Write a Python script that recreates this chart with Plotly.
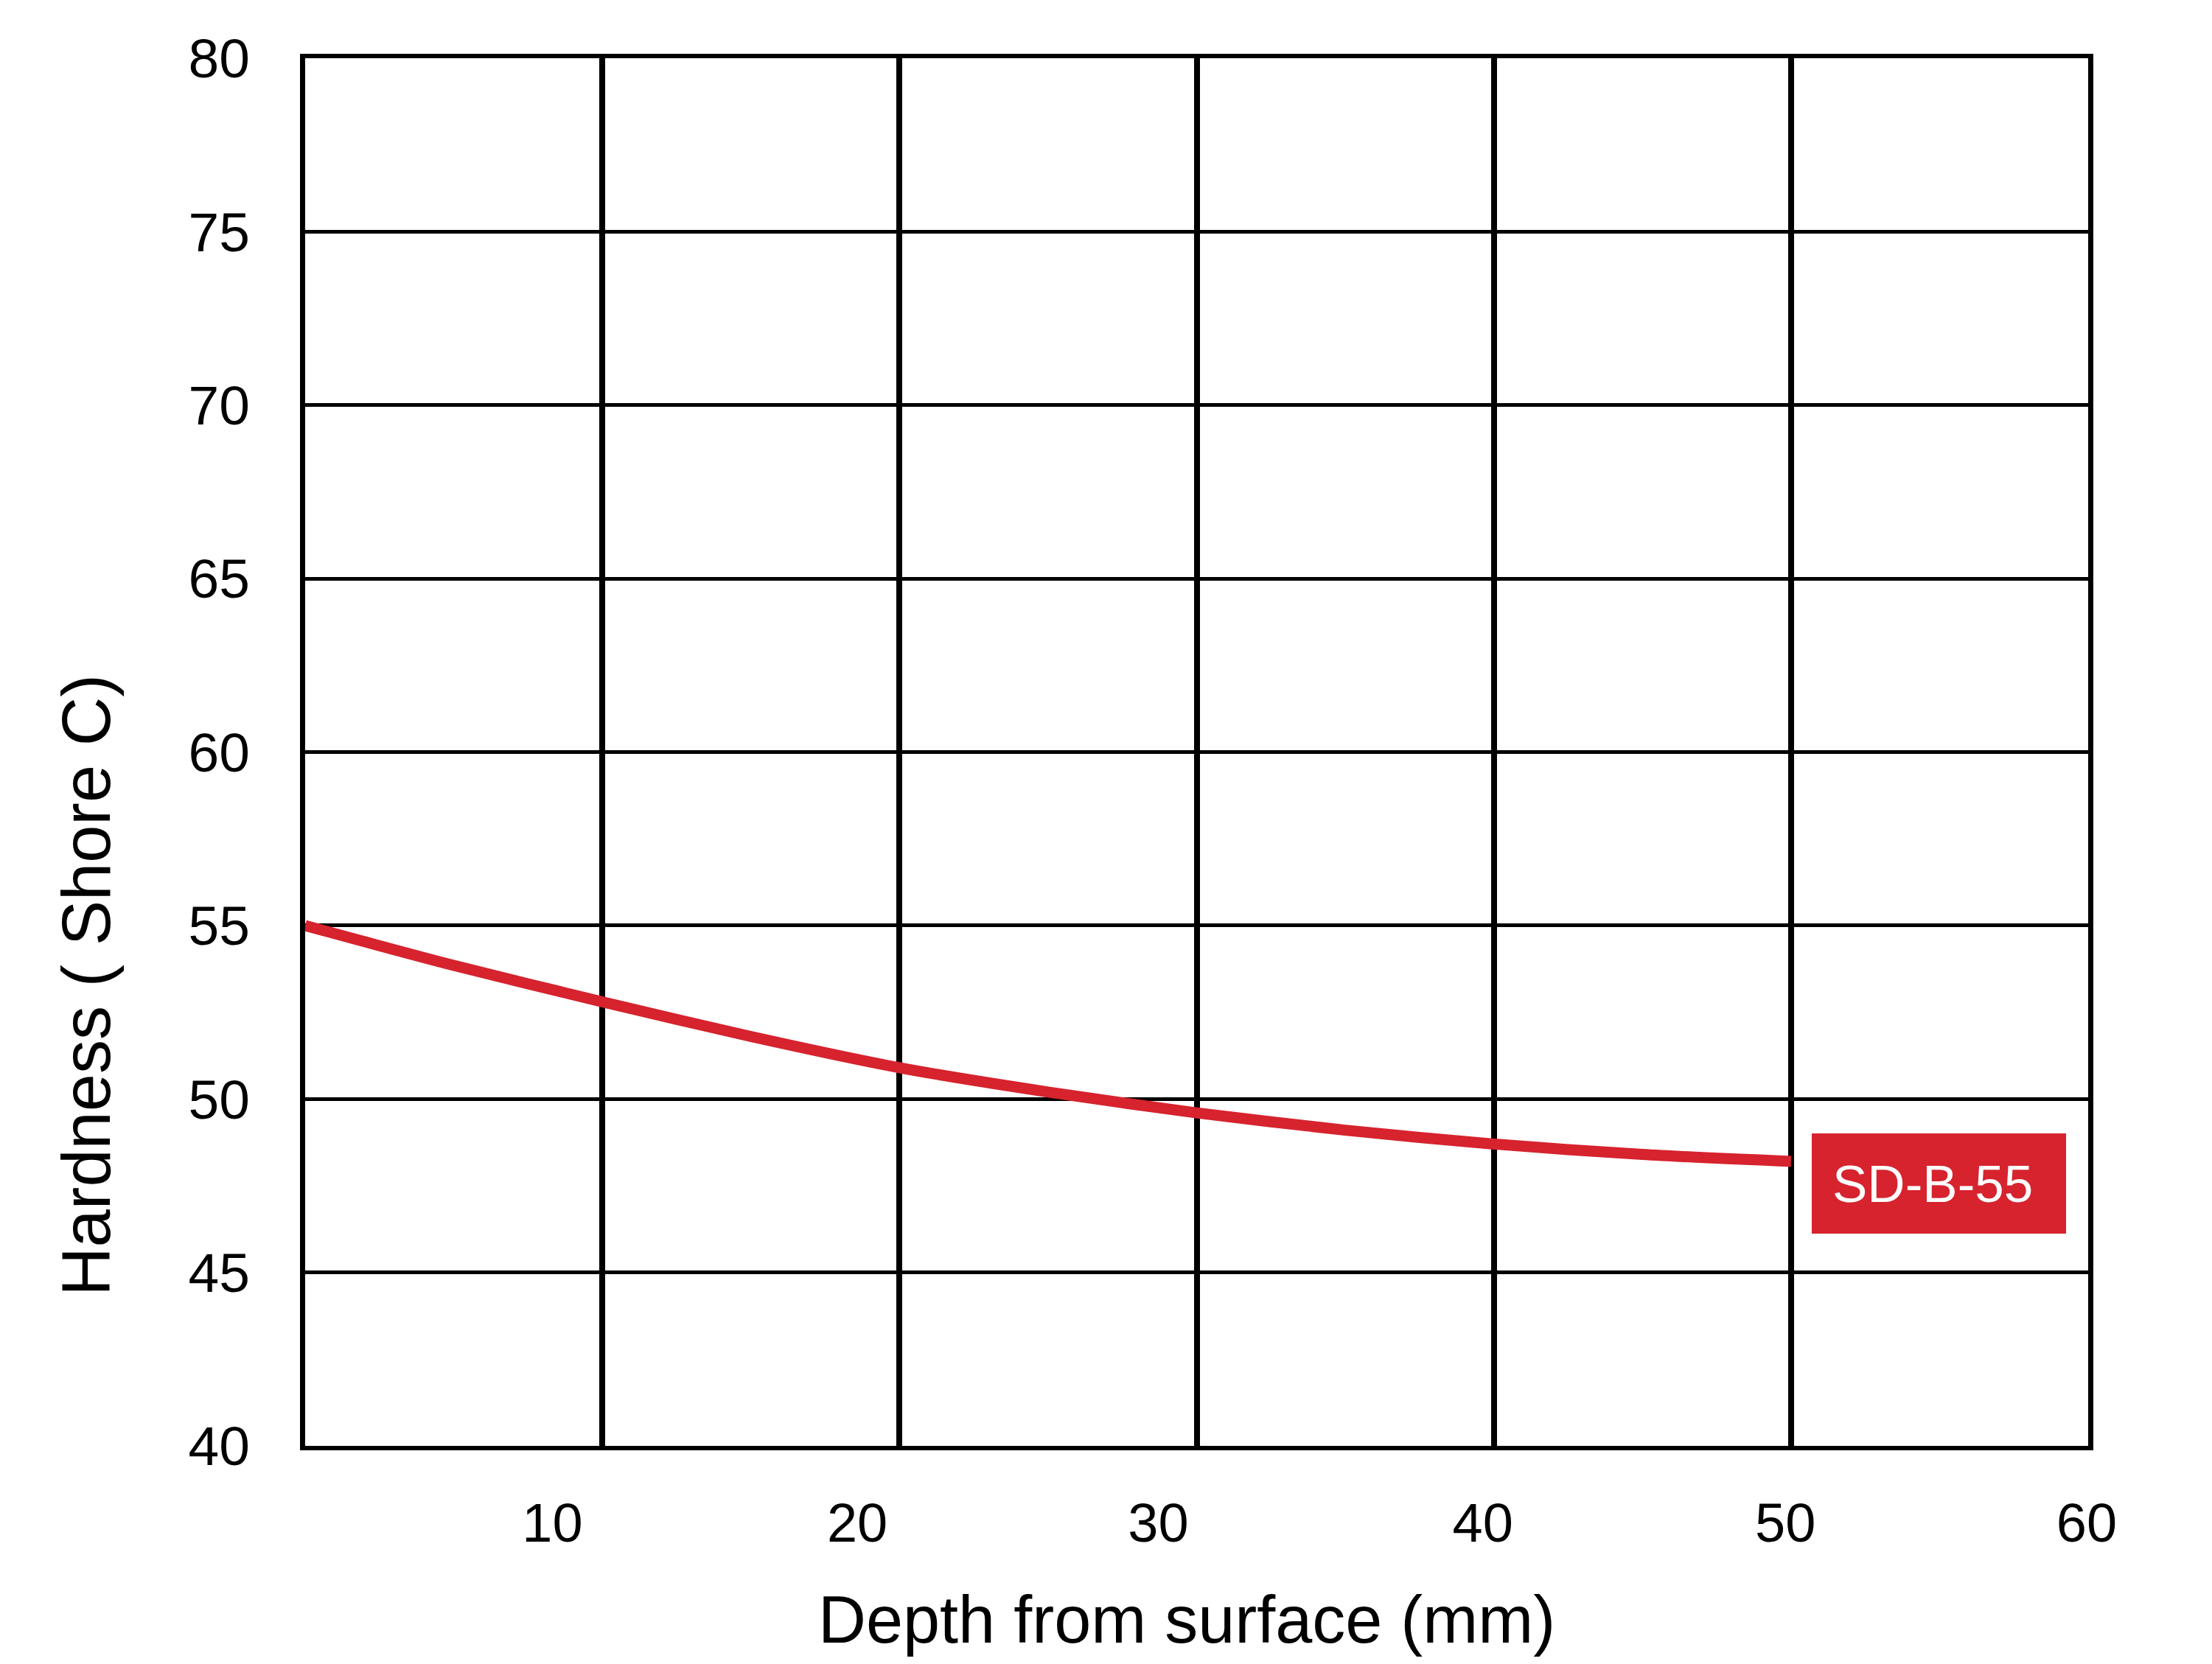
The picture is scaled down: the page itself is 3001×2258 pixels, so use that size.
import plotly.graph_objects as go

# ---- data ----
depth_mm = [0, 5, 10, 15, 20, 25, 30, 35, 40, 45, 50]
hardness = [55.0, 53.85, 52.8, 51.8, 50.9, 50.2, 49.6, 49.1, 48.7, 48.4, 48.2]
series_name = "SD-B-55"

x_grid_vals = [10, 20, 30, 40, 50, 60]
x_tick_labels = ["10", "20", "30", "40", "50", "60"]
x_label_pos = [8.32, 18.58, 28.71, 39.63, 49.81, 59.95]
y_tick_vals = [40, 45, 50, 55, 60, 65, 70, 75, 80]

x_title = "Depth from surface (mm)"
y_title = "Hardness ( Shore C)"

RED = "#D6232E"
FONT = "Liberation Sans, Arial, Helvetica, sans-serif"

fig = go.Figure()
fig.add_trace(go.Scatter(
    x=depth_mm, y=hardness, mode="lines",
    line=dict(color=RED, width=15, shape="spline", smoothing=0.8),
    showlegend=False, hoverinfo="skip"))
# helper trace so the label axis is drawn
fig.add_trace(go.Scatter(
    x=[x_label_pos[0]], y=[None], xaxis="x2", yaxis="y", mode="lines",
    showlegend=False, hoverinfo="skip"))

# page body has an 8px margin: figure is 16px smaller than the window
fig.update_layout(
    width=2985, height=2242,
    margin=dict(l=406, r=160, t=71, b=288, pad=0),
    paper_bgcolor="white", plot_bgcolor="white",
    font=dict(family=FONT, color="black", size=75),
    xaxis=dict(range=[0, 60], tickvals=x_grid_vals, showticklabels=False,
               ticks="", showgrid=True, gridcolor="black", gridwidth=8,
               showline=True, linecolor="black", linewidth=6, mirror=True,
               zeroline=False, fixedrange=True),
    xaxis2=dict(overlaying="x", anchor="y", side="bottom", range=[0, 60],
                tickvals=x_label_pos, ticktext=x_tick_labels,
                showgrid=False, showline=False, zeroline=False, ticks="",
                tickfont=dict(size=74, color="black", family=FONT),
                ticklabelstandoff=55),
    yaxis=dict(range=[40, 80], tickvals=y_tick_vals, ticks="",
               showgrid=True, gridcolor="black", gridwidth=5,
               showline=True, linecolor="black", linewidth=7, mirror=True,
               zeroline=False, tickfont=dict(size=75, color="black", family=FONT),
               ticklabelstandoff=53),
    annotations=[
        dict(x=depth_mm[-1], y=hardness[-1], xref="x", yref="y",
             text=series_name, showarrow=False, xanchor="left", yanchor="middle",
             xshift=28, yshift=-30, bgcolor=RED, borderpad=28, borderwidth=0,
             width=289, height=80, align="left", valign="middle",
             font=dict(color="white", size=71, family=FONT)),
        dict(x=0.4944, y=0, xref="paper", yref="paper", yshift=-236,
             text=x_title, showarrow=False, xanchor="center", yanchor="middle",
             font=dict(size=90, color="black", family=FONT)),
        dict(x=0, y=0.332, xref="paper", yref="paper", xshift=-297,
             text=y_title, showarrow=False, textangle=-90,
             xanchor="center", yanchor="middle",
             font=dict(size=92, color="black", family=FONT)),
    ],
)

fig.write_html("out.html")
